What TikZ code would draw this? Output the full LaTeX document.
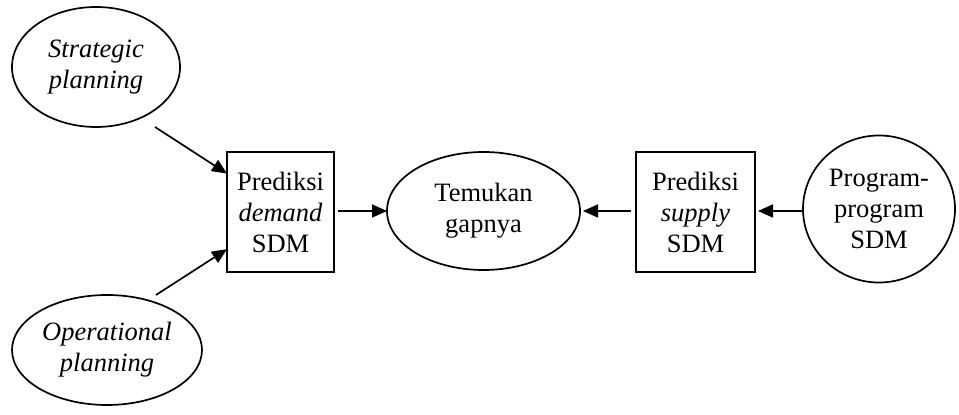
\documentclass[tikz,border=0pt]{standalone}
\usepackage{fontspec}
\setmainfont{Liberation Serif}
\usetikzlibrary{shapes.geometric,arrows.meta,calc}
\begin{document}
\begin{tikzpicture}[x=0.5pt,y=-0.5pt,
  every node/.style={font=\fontsize{13.25}{15.5}\selectfont, align=center, inner sep=0pt, outer sep=0pt, line width=0.85pt},
  oval/.style={draw, ellipse},
  boxnode/.style={draw, rectangle},
  arr/.style={draw, line width=0.85pt, -{Triangle[length=7.5pt,width=6.5pt]}}]
\useasboundingbox (0,0) rectangle (959,415);
\node[oval, minimum width=84pt, minimum height=60pt] (strat) at (96,67) {\textit{Strategic}\\\textit{planning}};
\node[oval, minimum width=95pt, minimum height=55pt] (oper) at (107,350) {\textit{Operational}\\\textit{planning}};
\node[boxnode, minimum width=53.5pt, minimum height=60pt] (demand) at (280.5,212) {Prediksi\\\textit{demand}\\SDM};
\node[oval, minimum width=96.5pt, minimum height=59pt] (tem) at (483.5,211) {Temukan\\gapnya};
\node[boxnode, minimum width=59.5pt, minimum height=60pt] (supply) at (695.5,212) {Prediksi\\\textit{supply}\\SDM};
\node[oval, minimum width=76pt, minimum height=73.5pt] (prog) at (879,209) {Program-\\program\\SDM};
\coordinate (s1) at (155,127);
\coordinate (o1) at (156,295);
\draw[arr] (s1) -- ($(demand.north west)!0.18!(demand.south west)$);
\draw[arr] (o1) -- ($(demand.north west)!0.81!(demand.south west)$);
\draw[arr, shorten <=2pt] (demand.east |- tem.west) -- (tem.west);
\draw[arr, shorten <=2.5pt, shorten >=1.5pt] (supply.west |- tem.east) -- (tem.east);
\draw[arr, shorten >=1.5pt] (prog.west |- tem.east) -- (supply.east |- tem.east);
\end{tikzpicture}
\end{document}
